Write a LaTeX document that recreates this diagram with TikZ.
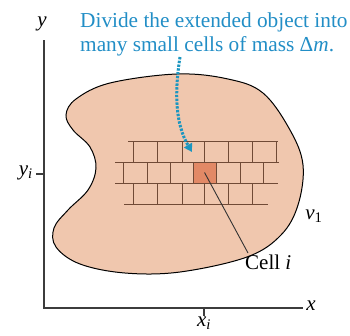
\documentclass[tikz,border=0pt]{standalone}
\usepackage{fontspec}
\setmainfont{Liberation Serif}
\usetikzlibrary{arrows.meta}
\definecolor{blobfill}{RGB}{240,199,174}
\definecolor{cellfill}{RGB}{226,137,102}
\definecolor{gridcol}{RGB}{112,74,54}
\definecolor{bluetext}{RGB}{34,142,198}
\definecolor{bluearrow}{RGB}{28,150,192}
\definecolor{axiscol}{RGB}{60,60,60}
\begin{document}
\begin{tikzpicture}[x=1pt,y=-1pt,
  lbl/.style={inner sep=0pt, font=\fontsize{21}{24}\selectfont},
  axisline/.style={draw=axiscol, line width=1.1pt},
  gridline/.style={draw=gridcol, line width=0.8pt},
  dotarrow/.style={draw=bluearrow, line width=3pt, dash pattern=on 2.4pt off 1.4pt,
    -{Triangle[length=8pt,width=9pt]}}]
\useasboundingbox (0,0) rectangle (350,335);
% blob
\draw[fill=blobfill, line width=1pt] plot[smooth cycle, tension=0.6] coordinates {
  (177,74) (228,79) (263,93) (290,130) (303,165) (298,205) (281,235) (247,257)
  (180,272) (125,273) (80,264) (56,247) (54,228) (68,210) (88,190) (96,168)
  (90,147) (73,130) (66,115) (76,99) (110,83)};
% highlighted cell
\node[draw=gridcol, line width=0.8pt, fill=cellfill, minimum width=23pt, minimum height=21pt, inner sep=0pt]
  (cell) at (204.5,172.5) {};
% grid
\draw[gridline] (128,141) -- (278,141);
\draw[gridline] (115,162) -- (279,162);
\draw[gridline] (115,183) -- (278,183);
\draw[gridline] (124,204) -- (268,204);
\foreach \x in {133,157,182,204,228,252,276} \draw[gridline] (\x,141) -- (\x,162);
\foreach \x in {123,147,170,193,216,240,263} \draw[gridline] (\x,162) -- (\x,183);
\foreach \x in {133,157,182,204,228,252} \draw[gridline] (\x,183) -- (\x,204);
% axes
\coordinate (origin) at (44,308);
\coordinate (ytop) at (44,40);
\coordinate (xend) at (303,308);
\draw[axisline] (ytop) -- (origin) -- (xend);
\coordinate (xt) at (204,308);
\coordinate (xtb) at (204,316);
\draw[axisline] (xt) -- (xtb);
\coordinate (yt) at (44,174);
\coordinate (ytl) at (36,174);
\draw[axisline] (yt) -- (ytl);
\node[lbl] (ylab) at (42,24) {\textit{y}};
\node[lbl] (xlab) at (311,306) {\textit{x}};
\node[lbl, anchor=north] (xilab) at (204,317) {\textit{x\textsubscript{i}}};
\node[lbl, anchor=east] (yilab) at (33,173) {\textit{y\textsubscript{i}}};
\node[lbl] (vlab) at (314,216) {\textit{v}\textsubscript{1}};
% text
\node[lbl, anchor=base west, align=left, text=bluetext, font=\fontsize{21.3}{23.5}\selectfont]
  (txt) at (80,51) {Divide the extended object into\\many small cells of mass Δ\textit{m}.};
% dotted arrow
\coordinate (astart) at (180,57);
\coordinate (aend) at (192,152);
\draw[dotarrow] (astart) .. controls (174,95) and (176,125) .. (aend);
% cell label
\node[lbl, anchor=north west] (celllab) at (245,255) {Cell \textit{i}};
\draw[line width=0.9pt, draw=black!80] (cell.center) -- (248,253);
\end{tikzpicture}
\end{document}
